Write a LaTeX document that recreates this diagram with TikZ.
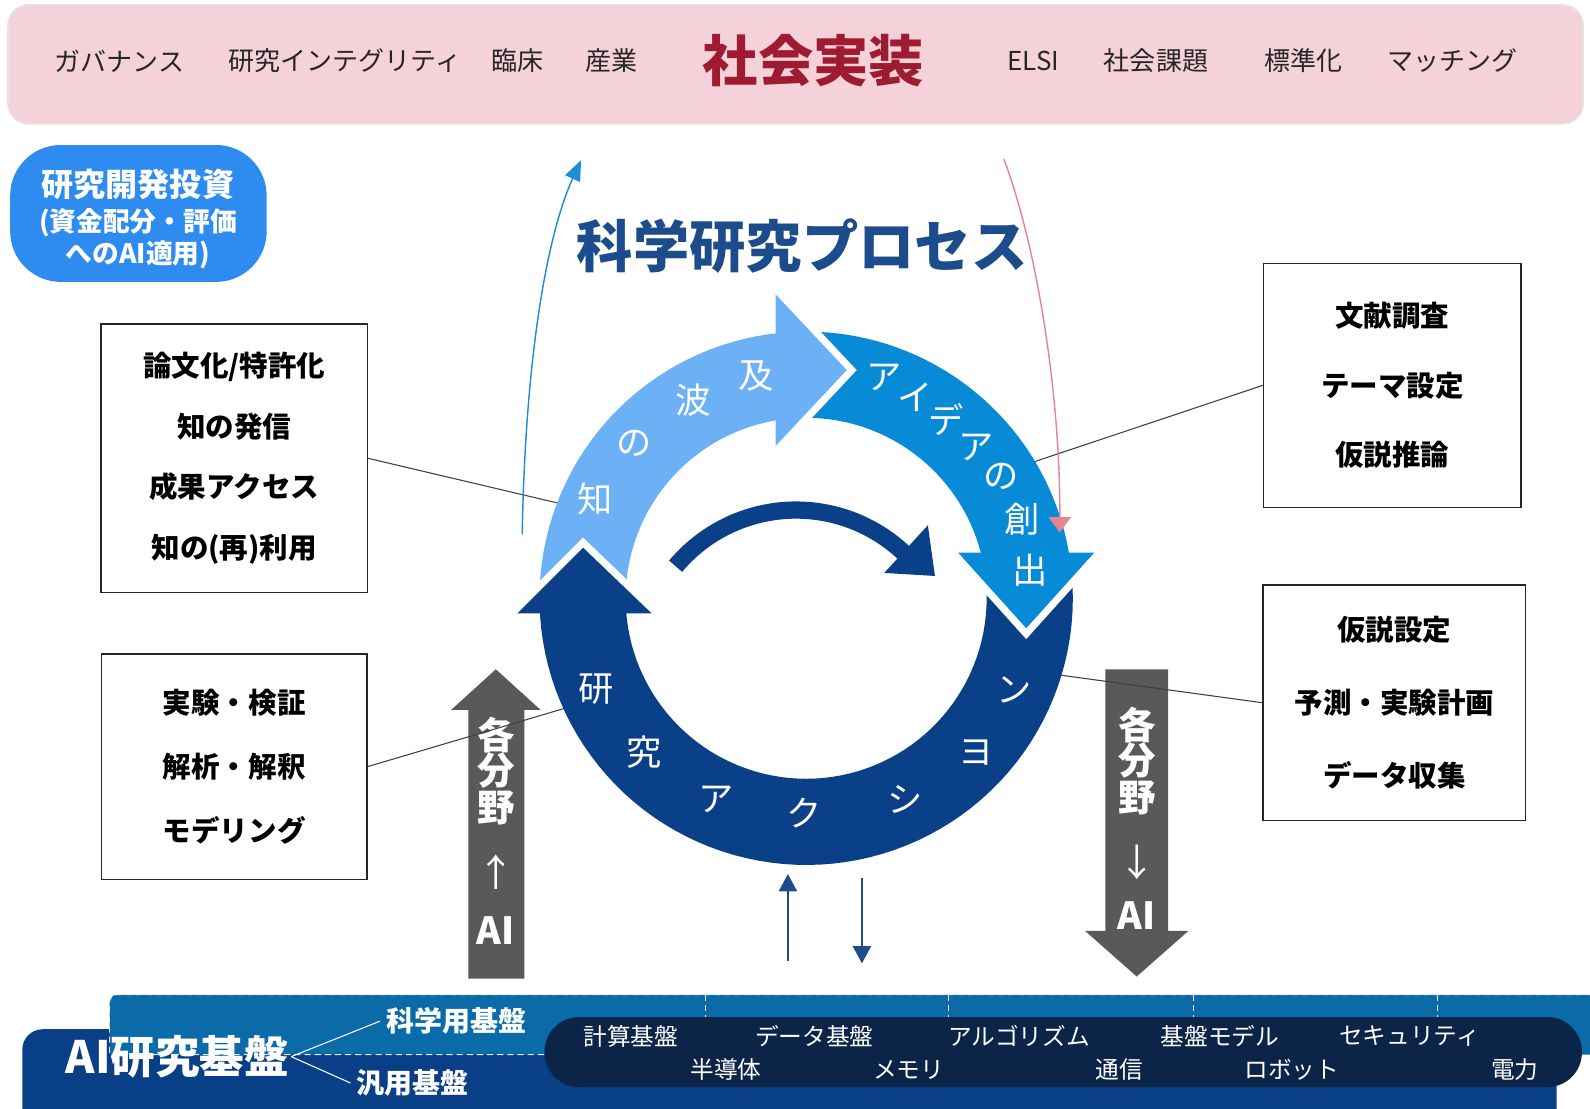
\documentclass[tikz,border=0pt]{standalone}
\usepackage{fontspec}
\setmainfont{Noto Sans CJK JP}
\usepackage{tikz}
\usetikzlibrary{arrows.meta,positioning}
\definecolor{pinkbar}{HTML}{F5D1D9}
\definecolor{barline}{HTML}{E2E2E2}
\definecolor{redtxt}{HTML}{9E1B32}
\definecolor{fundblue}{HTML}{2E8CF0}
\definecolor{titleblue}{HTML}{1C4C8C}
\definecolor{lightarc}{HTML}{6CB0F6}
\definecolor{medarc}{HTML}{088BD7}
\definecolor{darkarc}{HTML}{0A4087}
\definecolor{grayarr}{HTML}{595959}
\definecolor{sciband}{HTML}{0A6BA8}
\definecolor{aiband}{HTML}{083F87}
\definecolor{pillc}{HTML}{0C2448}
\definecolor{thinblue}{HTML}{1E8CD8}
\definecolor{thinpink}{HTML}{E8848F}
\tikzstyle{bartxt}=[font=\fontsize{14.6}{16}\selectfont, text=black!85]
\tikzstyle{sidebox}=[draw=black!85, fill=white, line width=0.7pt, align=center]
\tikzstyle{ringtxt}=[text=white, font=\fontsize{19.8}{21}\selectfont]
\tikzstyle{graytxt}=[text=white, font=\bfseries\fontsize{21}{23}\selectfont]
\tikzstyle{pilltxt}=[text=white, font=\fontsize{13.3}{15}\selectfont]
\tikzstyle{bandtxt}=[text=white, font=\bfseries\fontsize{15.7}{17}\selectfont]
\tikzstyle{conn}=[draw=black!75, line width=0.6pt]
\tikzstyle{halo}=[draw=white, line width=1.4mm, line join=miter]
\tikzstyle{sepdash}=[draw=white!85!gray, line width=0.5pt, dash pattern=on 1.2mm off 0.8mm]

\begin{document}
\begin{tikzpicture}
[x=0.2mm, y=-0.2mm, >=Triangle]
\useasboundingbox (0,0) rectangle (1568,1093.6);

% society bar
\draw[fill=pinkbar, draw=barline, line width=1pt, rounded corners=4mm] (8,5) rectangle (1561,122);
\foreach \x/\s [count=\i] in {118/ガバナンス, 340/研究インテグリティ, 510/臨床, 603/産業, 1019/ELSI, 1140/社会課題, 1285/標準化, 1432/マッチング}
  \node[bartxt] (t\i) at (\x,60) {\s};
\node[font=\bfseries\fontsize{31}{34}\selectfont, text=redtxt] (soc) at (802,60) {社会実装};

% funding
\fill[fundblue, rounded corners=10mm] (10,143) rectangle (263,278);
\node[align=center, text=white, font=\bfseries] (fund) at (136,216)
  {\fontsize{18}{19}\selectfont 研究開発投資\\[3.5pt] \fontsize{15}{17}\selectfont (資金配分・評価\\[1pt] \fontsize{15}{17}\selectfont へのAI適用)};

\node[font=\bfseries\fontsize{31.6}{34}\selectfont, text=titleblue] (title) at (791,243) {科学研究プロセス};

% base bands
\fill[aiband, rounded corners=4mm] (22,1130) -- (22,1015) -- (1535,1015) -- (1535,1130) -- cycle;
\fill[sciband] (108,1040) [rounded corners=1.5mm] -- (108,981) [sharp corners] -- (1600,981) -- (1600,1040) -- cycle;
\draw[sepdash] (1600,981) [rounded corners=1.5mm] -- (108,981) [sharp corners] -- (108,1040) -- (560,1040);
\foreach \x in {696,935,1177,1418}
  \draw[sepdash] (\x,981) -- (\x,1003);
\fill[pillc, rounded corners=6.8mm] (537,1003) rectangle (1560,1072);
\node[text=white, font=\bfseries\fontsize{25}{27}\selectfont, inner sep=1pt] (ai) at (175,1042) {AI研究基盤};
\node[bandtxt] (sci) at (450,1007) {科学用基盤};
\node[bandtxt] (gen) at (407,1068) {汎用基盤};
\draw[white, line width=0.6pt] (ai.east) -- (sci.west);
\draw[white, line width=0.6pt] (ai.east) -- (gen.west);
\foreach \x/\s [count=\i] in {622/計算基盤, 803/データ基盤, 1005/アルゴリズム, 1203/基盤モデル, 1390/セキュリティ}
  \node[pilltxt] (pa\i) at (\x,1022) {\s};
\foreach \x/\s [count=\i] in {716/半導体, 896/メモリ, 1104/通信, 1274/ロボット, 1494/電力}
  \node[pilltxt] (pb\i) at (\x,1055) {\s};

% field <-> AI arrows
\fill[grayarr] (462,965) -- (462,700) -- (445,700) -- (489,660) -- (533,700) -- (517,700) -- (517,965) -- cycle;
\fill[grayarr] (1090,660) -- (1152,660) -- (1152,918) -- (1172,918) -- (1121,963) -- (1070,918) -- (1090,918) -- cycle;
\foreach \y/\s [count=\i] in {725/各, 760/分, 797/野}
  \node[graytxt] (ga\i) at (489,\y) {\s};
\node[text=white, font=\fontsize{21}{23}\selectfont] (gup) at (489,860) {↑};
\node[graytxt] (gai) at (489,918) {AI};
\foreach \y/\s [count=\i] in {715/各, 750/分, 787/野}
  \node[graytxt] (gb\i) at (1121,\y) {\s};
\node[text=white, font=\fontsize{21}{23}\selectfont] (gdn) at (1121,850) {↓};
\node[graytxt] (gbi) at (1121,903) {AI};

% side boxes
\node[sidebox, minimum width=52.6mm, minimum height=53mm, font=\bfseries\fontsize{16}{34}\selectfont] (b1) at (231,452)
  {論文化/特許化\\知の発信\\成果アクセス\\知の(再)利用};
\node[sidebox, minimum width=52.4mm, minimum height=44.4mm, font=\bfseries\fontsize{16}{36}\selectfont] (b2) at (231,756)
  {実験・検証\\解析・解釈\\モデリング};
\node[sidebox, minimum width=50.8mm, minimum height=48.2mm, font=\bfseries\fontsize{16}{39}\selectfont] (b3) at (1373,380)
  {文献調査\\テーマ設定\\仮説推論};
\node[sidebox, minimum width=51.8mm, minimum height=46.4mm, font=\bfseries\fontsize{16}{41}\selectfont] (b4) at (1375,693)
  {仮説設定\\予測・実験計画\\データ収集};
\coordinate (e1) at (554,497);
\coordinate (e2) at (562,697);
\coordinate (e3) at (1015,457);
\coordinate (e4) at (1040,665);
\draw[conn] (b1.east) -- (e1);
\draw[conn] (b2.east) -- (e2);
\draw[conn] (b3.west) -- (e3);
\draw[conn] (b4.west) -- (e4);

% process ring
\begin{scope}[shift={(795,590)}]
\fill[lightarc] plot[domain=178:266, samples=40, variable=\t] (\t:263) -- plot[domain=266:178, samples=40, variable=\t] (\t:178) -- cycle;
\fill[medarc] plot[domain=268:354, samples=40, variable=\t] (\t:263) -- plot[domain=354:268, samples=40, variable=\t] (\t:178) -- cycle;
\fill[darkarc] plot[domain=-8:179, samples=70, variable=\t] (\t:263) -- plot[domain=179:-8, samples=70, variable=\t] (\t:178) -- cycle;
\end{scope}
\fill[darkarc] (505,605) -- (575,535) -- (648,605) -- cycle;
\draw[halo] (505,605) -- (575,535) -- (648,605);
\fill[lightarc] (765,285) -- (840,365) -- (765,445) -- cycle;
\draw[halo] (765,285) -- (840,365) -- (765,445);
\fill[medarc] (940,545) -- (1012,625) -- (1084,545) -- cycle;
\draw[halo] (940,545) -- (1012,625) -- (1084,545);

\foreach \x/\y/\c [count=\i] in {587/492/知, 625/437/の, 684/395/波, 746/371/及}
  \node[ringtxt] (k\i) at (\x,\y) {\c};
\foreach \x/\y/\c [count=\i] in {872/372/ア, 902/392/イ, 933/414/デ, 963/441/ア, 987/470/の, 1008/512/創, 1016/562/出}
  \node[ringtxt] (m\i) at (\x,\y) {\c};
\foreach \x/\y/\c [count=\i] in {588/680/研, 635/742/究, 706/788/ア, 793/802/ク, 893/788/シ, 963/742/ヨ, 1000/680/ン}
  \node[ringtxt] (d\i) at (\x,\y) {\c};

% inner cycle arrow
\begin{scope}[shift={(785,658)}]
\draw[darkarc, line width=3.4mm] (220:155) arc[start angle=220, end angle=315, radius=155];
\end{scope}
\fill[darkarc] (872,565) -- (915,518) -- (922,568) -- cycle;

% feedback arrows
\coordinate (ub) at (515,527);
\coordinate (ut) at (573,158);
\coordinate (pt) at (990,157);
\coordinate (pb) at (1045,525);
\draw[thinblue, line width=0.8pt, -{Triangle[length=4mm, width=3.2mm]}] (ub) .. controls (518,350) and (540,230) .. (ut);
\draw[thinpink, line width=0.8pt, -{Triangle[length=3mm, width=4.4mm]}] (pt) .. controls (1025,250) and (1046,400) .. (pb);

\coordinate (s1) at (777,948);
\coordinate (s2) at (777,862);
\coordinate (s3) at (850,866);
\coordinate (s4) at (850,950);
\draw[titleblue, line width=0.9pt, -{Triangle[length=3.4mm, width=3.6mm]}] (s1) -- (s2);
\draw[titleblue, line width=0.9pt, -{Triangle[length=3.4mm, width=3.6mm]}] (s3) -- (s4);
\end{tikzpicture}
\end{document}
